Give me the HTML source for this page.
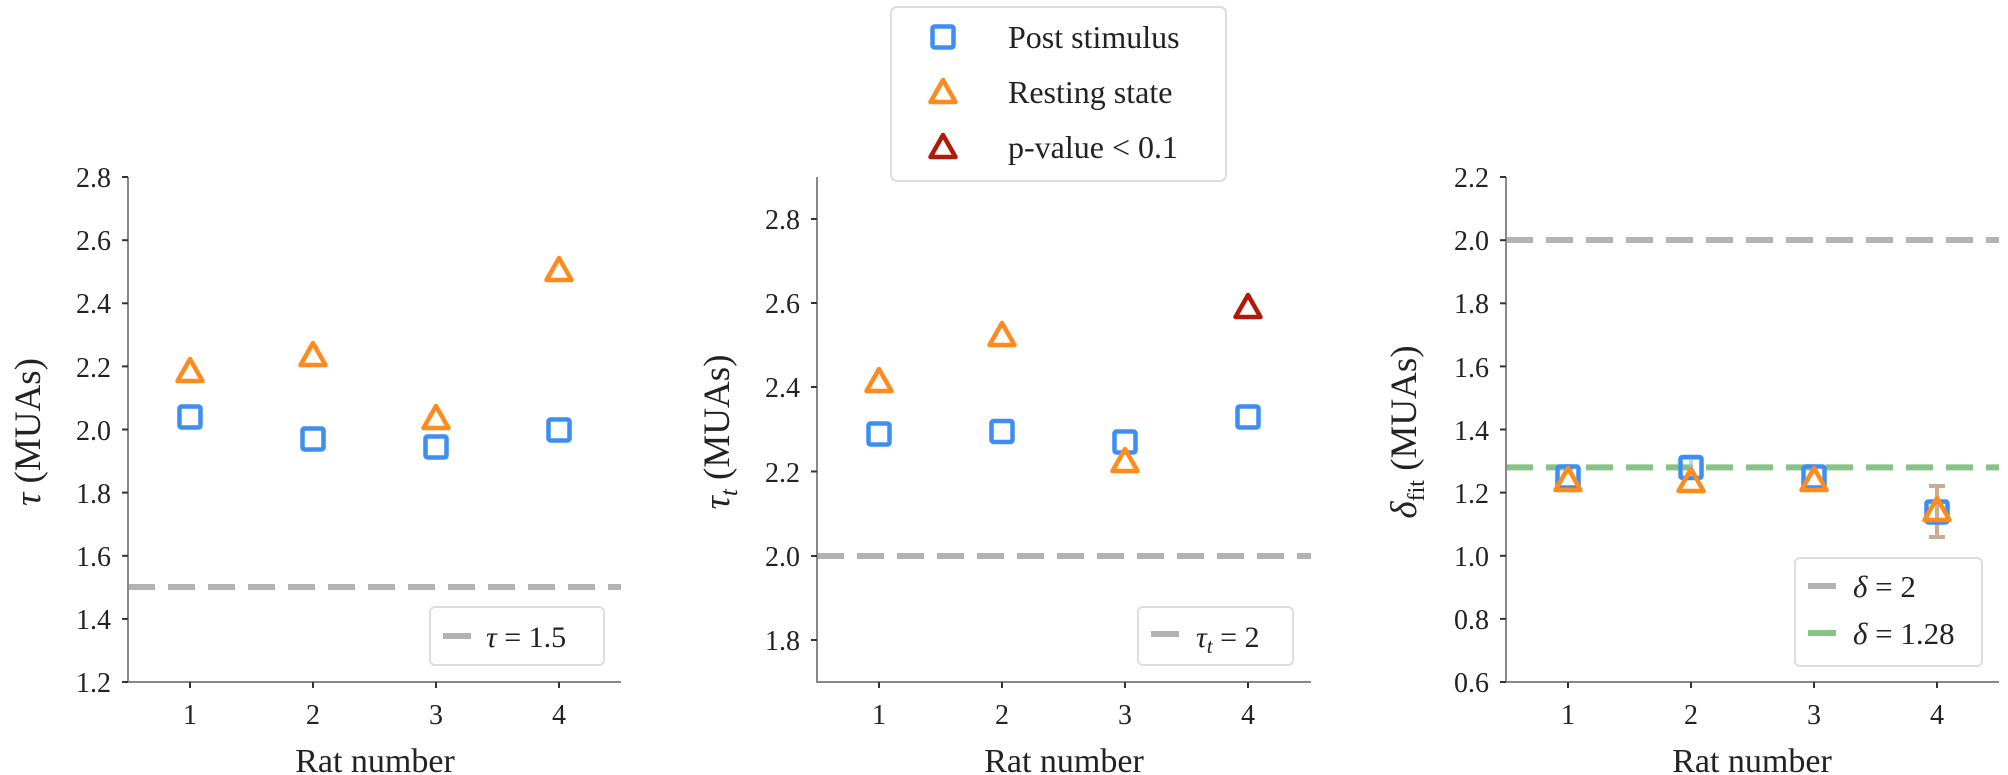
<!DOCTYPE html>
<html><head><meta charset="utf-8"><style>
html,body{margin:0;padding:0;background:#fff;}
svg{display:block;font-family:"Liberation Serif",serif;}
.t{font-size:28px;fill:#222;}
.ax{stroke:#888;stroke-width:2;fill:none;}
.tk{stroke:#333;stroke-width:2;}
.sq{fill:none;stroke:#3d8ef3;stroke-width:4.5;}
.tr{fill:none;stroke:#ff8b1e;stroke-width:4.5;stroke-linejoin:round;}
.rd{fill:none;stroke:#b11a08;stroke-width:4.5;stroke-linejoin:round;}
.dg{stroke:#b3b3b3;stroke-width:6;stroke-dasharray:27 13;}
.dgr{stroke:#86c486;stroke-width:6;stroke-dasharray:27 13;}
.lg{fill:#fff;stroke:#ddd;stroke-width:2;}
</style></head><body>
<svg width="2008" height="775" viewBox="0 0 2008 775">
<defs>
<rect id="S" x="-10.5" y="-10.5" width="21" height="21" rx="2"/>
<polygon id="T" points="0,-14 12.5,8 -12.5,8"/>
</defs>

<!-- Panel 1 -->
<line class="dg" x1="128" y1="587" x2="621" y2="587"/>
<path class="ax" d="M128 177 V682 H621"/>
<g class="tk">
<line x1="122" y1="682" x2="128" y2="682"/><line x1="122" y1="618.9" x2="128" y2="618.9"/>
<line x1="122" y1="555.8" x2="128" y2="555.8"/><line x1="122" y1="492.6" x2="128" y2="492.6"/>
<line x1="122" y1="429.5" x2="128" y2="429.5"/><line x1="122" y1="366.4" x2="128" y2="366.4"/>
<line x1="122" y1="303.3" x2="128" y2="303.3"/><line x1="122" y1="240.2" x2="128" y2="240.2"/>
<line x1="122" y1="177" x2="128" y2="177"/>
<line x1="190" y1="682" x2="190" y2="688"/><line x1="313" y1="682" x2="313" y2="688"/>
<line x1="436" y1="682" x2="436" y2="688"/><line x1="559" y1="682" x2="559" y2="688"/>
</g>
<g class="t" text-anchor="end">
<text x="111" y="692">1.2</text><text x="111" y="629">1.4</text><text x="111" y="566">1.6</text>
<text x="111" y="503">1.8</text><text x="111" y="440">2.0</text><text x="111" y="377">2.2</text>
<text x="111" y="313">2.4</text><text x="111" y="250">2.6</text><text x="111" y="187">2.8</text>
</g>
<g class="t" text-anchor="middle">
<text x="190" y="724">1</text><text x="313" y="724">2</text><text x="436" y="724">3</text><text x="559" y="724">4</text>
<text x="375" y="772" style="font-size:34px">Rat number</text>
</g>
<text class="t" style="font-size:37px" text-anchor="middle" transform="translate(40,432) rotate(-90)"><tspan font-style="italic">τ</tspan> (MUAs)</text>
<use href="#S" class="sq" x="190" y="417"/><use href="#S" class="sq" x="313" y="439"/>
<use href="#S" class="sq" x="436" y="447"/><use href="#S" class="sq" x="559" y="430"/>
<use href="#T" class="tr" x="190" y="373"/><use href="#T" class="tr" x="313" y="357"/>
<use href="#T" class="tr" x="436" y="420"/><use href="#T" class="tr" x="559" y="272"/>
<rect class="lg" x="430" y="607" width="174" height="58" rx="5"/>
<line x1="443" y1="636" x2="471" y2="636" stroke="#b3b3b3" stroke-width="6"/>
<text class="t" x="486" y="647" style="font-size:30px"><tspan font-style="italic">τ</tspan> = 1.5</text>

<!-- Panel 2 -->
<line class="dg" x1="817" y1="556" x2="1311" y2="556"/>
<path class="ax" d="M817 177 V682 H1311"/>
<g class="tk">
<line x1="811" y1="640" x2="817" y2="640"/><line x1="811" y1="556" x2="817" y2="556"/>
<line x1="811" y1="471.5" x2="817" y2="471.5"/><line x1="811" y1="387" x2="817" y2="387"/>
<line x1="811" y1="303" x2="817" y2="303"/><line x1="811" y1="219" x2="817" y2="219"/>
<line x1="879" y1="682" x2="879" y2="688"/><line x1="1002" y1="682" x2="1002" y2="688"/>
<line x1="1125" y1="682" x2="1125" y2="688"/><line x1="1248" y1="682" x2="1248" y2="688"/>
</g>
<g class="t" text-anchor="end">
<text x="800" y="650">1.8</text><text x="800" y="566">2.0</text><text x="800" y="482">2.2</text>
<text x="800" y="397">2.4</text><text x="800" y="313">2.6</text><text x="800" y="229">2.8</text>
</g>
<g class="t" text-anchor="middle">
<text x="879" y="724">1</text><text x="1002" y="724">2</text><text x="1125" y="724">3</text><text x="1248" y="724">4</text>
<text x="1064" y="772" style="font-size:34px">Rat number</text>
</g>
<text class="t" style="font-size:37px" text-anchor="middle" transform="translate(729,432) rotate(-90)"><tspan font-style="italic">τ<tspan style="font-size:25px" dy="8">t</tspan></tspan><tspan dy="-8"> (MUAs)</tspan></text>
<use href="#S" class="sq" x="879" y="434"/><use href="#S" class="sq" x="1002" y="431.5"/>
<use href="#S" class="sq" x="1125" y="442"/><use href="#S" class="sq" x="1248" y="417"/>
<use href="#T" class="tr" x="879" y="383"/><use href="#T" class="tr" x="1002" y="337"/>
<use href="#T" class="tr" x="1125" y="463"/><use href="#T" class="rd" x="1248" y="309"/>
<rect class="lg" x="1138" y="607" width="155" height="58" rx="5"/>
<line x1="1151" y1="634" x2="1179" y2="634" stroke="#b3b3b3" stroke-width="6"/>
<text class="t" x="1196" y="647" style="font-size:30px"><tspan font-style="italic">τ<tspan style="font-size:21px" dy="6">t</tspan></tspan><tspan dy="-6"> = 2</tspan></text>

<!-- Panel 3 -->
<line class="dg" x1="1506" y1="240" x2="1999" y2="240"/>
<line class="dgr" x1="1506" y1="467.4" x2="1999" y2="467.4"/>
<path class="ax" d="M1506 177 V682 H1999"/>
<g class="tk">
<line x1="1500" y1="682" x2="1506" y2="682"/><line x1="1500" y1="618.9" x2="1506" y2="618.9"/>
<line x1="1500" y1="555.8" x2="1506" y2="555.8"/><line x1="1500" y1="492.6" x2="1506" y2="492.6"/>
<line x1="1500" y1="429.5" x2="1506" y2="429.5"/><line x1="1500" y1="366.4" x2="1506" y2="366.4"/>
<line x1="1500" y1="303.3" x2="1506" y2="303.3"/><line x1="1500" y1="240.2" x2="1506" y2="240.2"/>
<line x1="1500" y1="177" x2="1506" y2="177"/>
<line x1="1568" y1="682" x2="1568" y2="688"/><line x1="1691" y1="682" x2="1691" y2="688"/>
<line x1="1814" y1="682" x2="1814" y2="688"/><line x1="1937" y1="682" x2="1937" y2="688"/>
</g>
<g class="t" text-anchor="end">
<text x="1489" y="692">0.6</text><text x="1489" y="629">0.8</text><text x="1489" y="566">1.0</text>
<text x="1489" y="503">1.2</text><text x="1489" y="440">1.4</text><text x="1489" y="377">1.6</text>
<text x="1489" y="313">1.8</text><text x="1489" y="250">2.0</text><text x="1489" y="187">2.2</text>
</g>
<g class="t" text-anchor="middle">
<text x="1568" y="724">1</text><text x="1691" y="724">2</text><text x="1814" y="724">3</text><text x="1937" y="724">4</text>
<text x="1752" y="772" style="font-size:34px">Rat number</text>
</g>
<text class="t" style="font-size:37px" text-anchor="middle" transform="translate(1416,432) rotate(-90)"><tspan font-style="italic">δ</tspan><tspan style="font-size:24px" dy="8">fit</tspan><tspan dy="-8"> (MUAs)</tspan></text>
<!-- error bars -->
<g stroke="#c9a184" stroke-width="4" opacity="0.9">
<line x1="1937" y1="486" x2="1937" y2="537"/><line x1="1929" y1="486" x2="1945" y2="486"/><line x1="1929" y1="537" x2="1945" y2="537"/>
</g>
<g stroke="#9dc0f0" stroke-width="4" opacity="0.7">
<line x1="1691" y1="458" x2="1691" y2="477"/><line x1="1683" y1="458" x2="1699" y2="458"/>
</g>
<use href="#S" class="sq" x="1568" y="477"/><use href="#S" class="sq" x="1691" y="467.5"/>
<use href="#S" class="sq" x="1814" y="477"/><use href="#S" class="sq" x="1937" y="512"/>
<use href="#T" class="tr" x="1568" y="482"/><use href="#T" class="tr" x="1691" y="483"/>
<use href="#T" class="tr" x="1814" y="482"/><use href="#T" class="tr" x="1937" y="512"/>
<rect class="lg" x="1795" y="558" width="187" height="108" rx="5"/>
<line x1="1808" y1="586" x2="1836" y2="586" stroke="#b3b3b3" stroke-width="6"/>
<line x1="1808" y1="633" x2="1836" y2="633" stroke="#86c486" stroke-width="6"/>
<text class="t" x="1853" y="597" style="font-size:31px"><tspan font-style="italic">δ</tspan> = 2</text>
<text class="t" x="1853" y="644" style="font-size:31px"><tspan font-style="italic">δ</tspan> = 1.28</text>

<!-- Top legend -->
<rect class="lg" x="891" y="7" width="335" height="174" rx="6"/>
<use href="#S" class="sq" x="943" y="37"/>
<use href="#T" class="tr" x="943" y="94"/>
<use href="#T" class="rd" x="943" y="149"/>
<g class="t" style="font-size:32px">
<text x="1008" y="48">Post stimulus</text>
<text x="1008" y="103">Resting state</text>
<text x="1008" y="158">p-value &lt; 0.1</text>
</g>
</svg>
</body></html>
